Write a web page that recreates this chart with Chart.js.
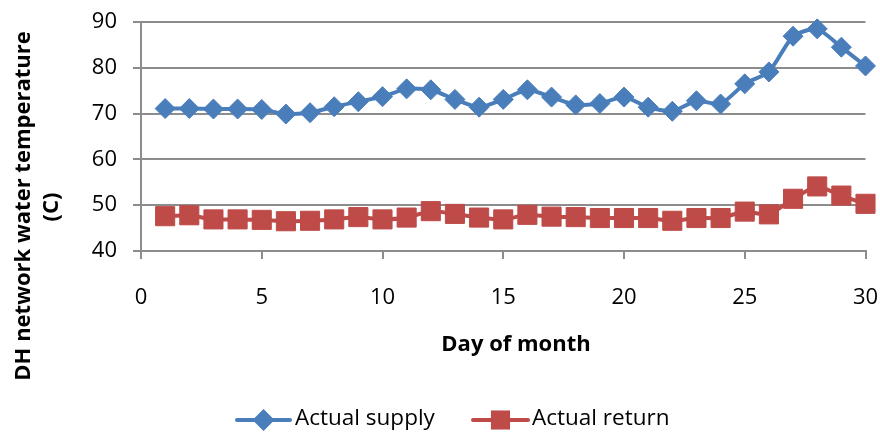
<!DOCTYPE html>
<html>
<head>
<meta charset="utf-8">
<script src="https://cdn.jsdelivr.net/npm/chart.js@4/dist/chart.umd.min.js"></script>
<style>
  html, body { margin: 0; padding: 0; background: #ffffff; }
  #wrap { width: 880px; height: 433px; }
</style>
</head>
<body>
<div id="wrap"><canvas id="c" width="880" height="433"></canvas></div>
<script>
// Daily district-heating network water temperatures (°C)
const days = [1, 2, 3, 4, 5, 6, 7, 8, 9, 10, 11, 12, 13, 14, 15,
              16, 17, 18, 19, 20, 21, 22, 23, 24, 25, 26, 27, 28, 29, 30];
const actualSupply = [71.1, 71.1, 71.0, 71.0, 70.9, 69.9, 70.2, 71.5, 72.6, 73.7,
                      75.4, 75.2, 73.1, 71.4, 73.1, 75.2, 73.6, 71.9, 72.2, 73.6,
                      71.4, 70.5, 72.8, 72.1, 76.5, 79.1, 86.9, 88.5, 84.5, 80.4];
const actualReturn = [47.6, 47.8, 46.9, 46.9, 46.8, 46.5, 46.6, 46.9, 47.4, 46.9,
                      47.3, 48.7, 48.1, 47.3, 46.9, 47.9, 47.5, 47.4, 47.2, 47.2,
                      47.2, 46.6, 47.2, 47.2, 48.6, 48.0, 51.4, 54.1, 52.1, 50.3];
const seriesNames = ['Actual supply', 'Actual return'];
const xTicks = [0, 5, 10, 15, 20, 25, 30];
const yTicks = [40, 50, 60, 70, 80, 90];
const xTitle = 'Day of month';
const yTitle = ['DH network water temperature', '(C)'];

const BLUE = '#4a7ebb';
const RED = '#be4b48';
const GRID = '#8c8c8c';
const FONT = "'Open Sans', 'Noto Sans', sans-serif";

const toPoints = (vals) => days.map((d, i) => ({ x: d, y: vals[i] }));

// Axis titles and the line-plus-marker legend
const decorations = {
  id: 'decorations',
  afterDraw(chart) {
    const ctx = chart.ctx;
    ctx.save();
    ctx.fillStyle = '#000000';

    // y title, rotated
    ctx.font = 'bold 22px ' + FONT;
    ctx.textAlign = 'center';
    ctx.textBaseline = 'middle';
    ctx.save();
    ctx.translate(24, 206);
    ctx.rotate(-Math.PI / 2);
    ctx.fillText(yTitle[0], 0, 0);
    ctx.restore();
    ctx.save();
    ctx.translate(52, 207);
    ctx.rotate(-Math.PI / 2);
    ctx.fillText(yTitle[1], 0, 0);
    ctx.restore();

    // x title
    ctx.fillText(xTitle, 516, 345);

    // legend
    const items = [
      { ds: chart.data.datasets[0], x0: 237, x1: 290, tx: 295 },
      { ds: chart.data.datasets[1], x0: 473, x1: 528, tx: 532 }
    ];
    const ly = 420;
    ctx.font = '22.5px ' + FONT;
    ctx.textAlign = 'left';
    items.forEach(it => {
      const ds = it.ds;
      ctx.strokeStyle = ds.borderColor;
      ctx.lineWidth = ds.borderWidth;
      ctx.lineCap = 'round';
      ctx.beginPath();
      ctx.moveTo(it.x0, ly);
      ctx.lineTo(it.x1, ly);
      ctx.stroke();
      const cx = (it.x0 + it.x1) / 2;
      ctx.fillStyle = ds.pointBackgroundColor;
      ctx.beginPath();
      if (ds.pointStyle === 'rectRot') {
        const r = ds.pointRadius + 1;
        ctx.moveTo(cx, ly - r);
        ctx.lineTo(cx + r, ly);
        ctx.lineTo(cx, ly + r);
        ctx.lineTo(cx - r, ly);
        ctx.closePath();
      } else {
        const h = ds.pointRadius * Math.SQRT1_2;
        ctx.rect(cx - h, ly - h, 2 * h, 2 * h);
      }
      ctx.fill();
      ctx.fillStyle = '#000000';
      ctx.textBaseline = 'middle';
      ctx.fillText(ds.label, it.tx, ly - 1);
    });
    ctx.restore();
  }
};

new Chart(document.getElementById('c'), {
  type: 'line',
  data: {
    datasets: [
      {
        label: seriesNames[0],
        data: toPoints(actualSupply),
        borderColor: BLUE,
        backgroundColor: BLUE,
        borderWidth: 4,
        tension: 0.2,
        clip: false,
        pointStyle: 'rectRot',
        pointRadius: 10,
        pointBorderWidth: 1,
        pointBackgroundColor: BLUE,
        pointBorderColor: BLUE
      },
      {
        label: seriesNames[1],
        data: toPoints(actualReturn),
        borderColor: RED,
        backgroundColor: RED,
        borderWidth: 4,
        tension: 0.2,
        clip: false,
        pointStyle: 'rect',
        pointRadius: 13.5,
        pointBorderWidth: 1,
        pointBackgroundColor: RED,
        pointBorderColor: RED
      }
    ]
  },
  options: {
    responsive: false,
    animation: false,
    events: [],
    layout: { padding: { left: 0, top: 22, right: 14, bottom: 0 } },
    plugins: {
      legend: { display: false },
      tooltip: { enabled: false },
      title: { display: false }
    },
    scales: {
      x: {
        type: 'linear',
        min: xTicks[0],
        max: xTicks[xTicks.length - 1],
        afterFit(scale) {
          scale.height = 182;
          scale.paddingLeft = 0;
          scale.paddingRight = 0;
        },
        afterBuildTicks(scale) { scale.ticks = xTicks.map(v => ({ value: v })); },
        border: { display: true, color: GRID, width: 2 },
        grid: { drawOnChartArea: false, drawTicks: true, tickLength: 8, color: GRID, lineWidth: 2 },
        ticks: { color: '#000000', font: { family: FONT, size: 22 }, padding: 26, maxRotation: 0 }
      },
      y: {
        type: 'linear',
        min: yTicks[0],
        max: yTicks[yTicks.length - 1],
        afterFit(scale) {
          scale.width = 141;
          scale.paddingTop = 0;
          scale.paddingBottom = 0;
        },
        afterBuildTicks(scale) { scale.ticks = yTicks.map(v => ({ value: v })); },
        border: { display: true, color: GRID, width: 2 },
        grid: { drawOnChartArea: true, drawTicks: true, tickLength: 8, color: GRID, lineWidth: 2 },
        ticks: { color: '#000000', font: { family: FONT, size: 22 }, padding: 16 }
      }
    }
  },
  plugins: [decorations]
});
</script>
</body>
</html>
